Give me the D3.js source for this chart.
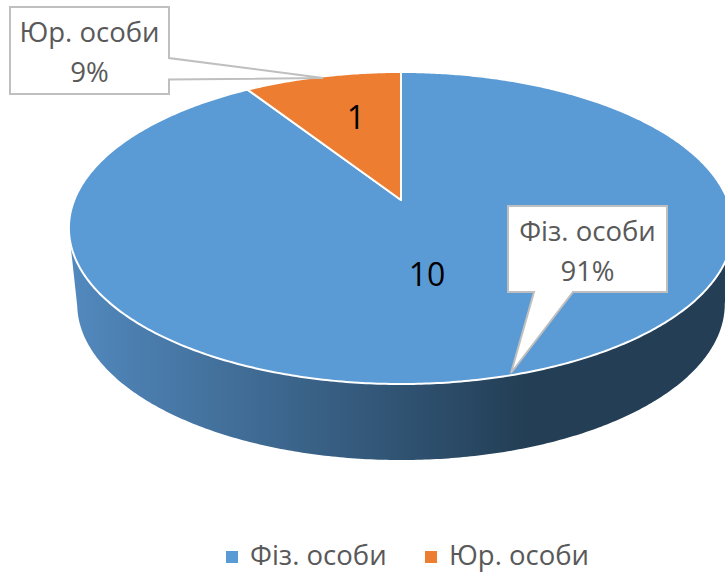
<!DOCTYPE html>
<html>
<head>
<meta charset="utf-8">
<script src="https://cdn.jsdelivr.net/npm/d3@7"></script>
<style>
  body { margin: 0; background: #fff; overflow: hidden; }
  text { font-family: "Open Sans", sans-serif; }
</style>
</head>
<body>
<div id="container"></div>
<script>
/* DATA */
const categories = ["Фіз. особи", "Юр. особи"]
const values = [10, 1]
const percents = ["91%", "9%"]
const colors = ["#5b9bd5", "#ed7d31"]

/* CONSTANTS */
const width = 725,
  height = 573

// the pie is tilted, so the pivot sits above the middle of the ellipse
const pivot = { x: 401, y: 200 },
  persp = -0.1795,
  scaleX = 326.7,
  scaleY = 151,
  depth = 76

const svg = d3.select('#container')
  .append('svg')
  .attr('width', width)
  .attr('height', height)

const pie = d3.pie().value(d => d).sort(null)
const slices = pie(values)

// angle on the flat disc -> point on the tilted top
function project(angle, r = 1) {
  const u = Math.sin(angle) * r
  const v = -Math.cos(angle) * r
  const w = 1 + persp * v
  return [pivot.x + scaleX * u / w, pivot.y + scaleY * v / w]
}

// bottom rim is a touch narrower than the top
function projectBottom(angle) {
  const p = project(angle)
  return [pivot.x + (p[0] - pivot.x) * 0.975, p[1] + depth]
}

const line = d3.line()

function slicePath(d) {
  const angles = d3.range(d.startAngle, d.endAngle, 0.01).concat([d.endAngle])
  return line([[pivot.x, pivot.y], ...angles.map(a => project(a))]) + 'Z'
}

/* SIDE WALL */
const grad = svg.append('defs').append('linearGradient')
  .attr('id', 'wall')
  .attr('gradientUnits', 'userSpaceOnUse')
  .attr('x1', 70).attr('x2', 725).attr('y1', 0).attr('y2', 0)
grad.append('stop').attr('offset', '0').attr('stop-color', '#5289be')
grad.append('stop').attr('offset', '0.7').attr('stop-color', '#233e55')
grad.append('stop').attr('offset', '1').attr('stop-color', '#233e55')

// from the rightmost to the leftmost point of the ellipse
const wallAngles = d3.range(1.75, 4.53, 0.01)
svg.append('path')
  .attr('d', line([...wallAngles.map(a => project(a)), ...wallAngles.slice().reverse().map(projectBottom)]) + 'Z')
  .attr('fill', 'url(#wall)')

/* TOP OF THE PIE */
svg.selectAll('path.slice')
  .data(slices)
  .join('path')
  .attr('class', 'slice')
  .attr('d', slicePath)
  .attr('fill', (d, i) => colors[i])
  .attr('stroke', '#fff')
  .attr('stroke-width', 2)
  .attr('stroke-linejoin', 'round')

/* VALUE LABELS */
const valuePos = [[427, 286], [356, 129]]
svg.selectAll('text.value')
  .data(values)
  .join('text')
  .attr('class', 'value')
  .attr('x', (d, i) => valuePos[i][0])
  .attr('y', (d, i) => valuePos[i][1])
  .attr('text-anchor', 'middle')
  .attr('font-size', 32)
  .attr('fill', '#000')
  .text(d => d)

/* CALLOUTS */
const callouts = [
  { x: 508, y: 206, w: 159, h: 86, tip: [511, 373], base: [[573, 292], [534, 292]] },
  { x: 10, y: 7, w: 159, h: 87, tip: [323, 78], base: [[169, 79.5], [169, 58]] }
]
callouts.forEach((c, i) => {
  const pts = i === 0
    ? [[c.x, c.y], [c.x + c.w, c.y], [c.x + c.w, c.y + c.h], c.base[0], c.tip, c.base[1], [c.x, c.y + c.h]]
    : [[c.x, c.y], [c.x + c.w, c.y], c.base[1], c.tip, c.base[0], [c.x + c.w, c.y + c.h], [c.x, c.y + c.h]]
  svg.append('path')
    .attr('d', line(pts) + 'Z')
    .attr('fill', '#fff')
    .attr('stroke', '#bfbfbf')
    .attr('stroke-width', 2)
  const label = svg.append('text')
    .attr('text-anchor', 'middle')
    .attr('font-size', 27.5)
    .attr('fill', '#595959')
  label.append('tspan').attr('x', c.x + c.w / 2).attr('y', c.y + 35).text(categories[i])
  label.append('tspan').attr('x', c.x + c.w / 2).attr('y', c.y + 75).text(percents[i])
})

/* LEGEND */
const legendX = d3.scaleOrdinal().domain(categories).range([226, 425])
const legend = svg.selectAll('g.legend')
  .data(categories)
  .join('g')
  .attr('class', 'legend')
  .attr('transform', d => `translate(${legendX(d)}, 551)`)
legend.append('rect')
  .attr('width', 12)
  .attr('height', 12)
  .attr('fill', (d, i) => colors[i])
legend.append('text')
  .attr('x', 24)
  .attr('y', 14)
  .attr('font-size', 27.5)
  .attr('fill', '#595959')
  .text(d => d)
</script>
</body>
</html>
